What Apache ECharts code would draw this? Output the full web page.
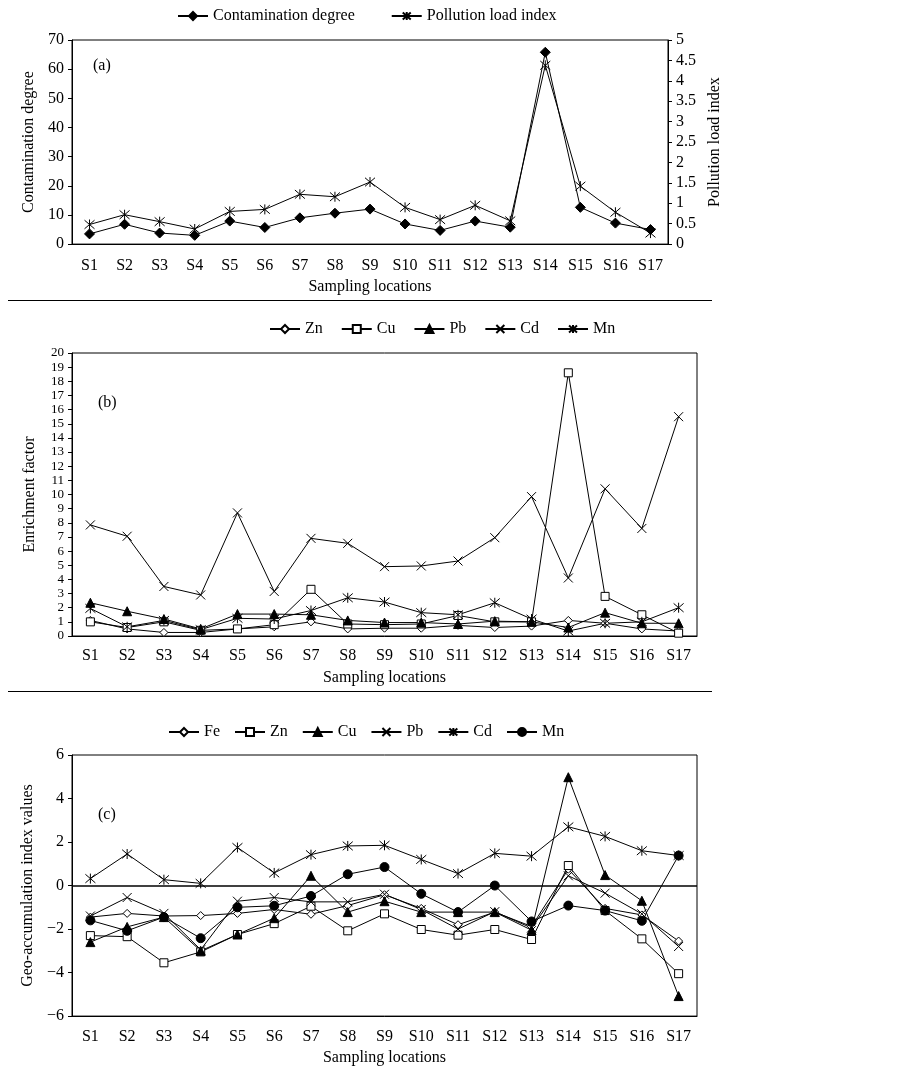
<!DOCTYPE html>
<html>
<head>
<meta charset="utf-8">
<script src="https://cdn.jsdelivr.net/npm/echarts@6/dist/echarts.min.js"></script>
<style>
  html, body { margin: 0; padding: 0; background: #fff; }
  #wrap { position: relative; width: 902px; height: 1071px; }
  .panel { position: absolute; left: 0; width: 902px; }
  .sep { position: absolute; left: 8px; width: 704px; height: 0; border-top: 1.5px solid #000; }
</style>
</head>
<body>
<div id="wrap">
  <div id="pa" class="panel" style="top:0;height:300px"></div>
  <div class="sep" style="top:300px"></div>
  <div id="pb" class="panel" style="top:301px;height:391px"></div>
  <div class="sep" style="top:691px"></div>
  <div id="pc" class="panel" style="top:692px;height:379px"></div>
</div>
<script>
// sampling sites
var sites = ['S1','S2','S3','S4','S5','S6','S7','S8','S9','S10','S11','S12','S13','S14','S15','S16','S17'];

// (a) contamination degree and pollution load index
var contDegree = [3.5, 6.8, 3.8, 3.0, 7.9, 5.7, 9.0, 10.6, 12.0, 6.9, 4.7, 7.9, 5.8, 65.8, 12.6, 7.2, 5.0];
var pli = [0.48, 0.72, 0.55, 0.37, 0.8, 0.85, 1.22, 1.16, 1.52, 0.9, 0.6, 0.95, 0.57, 4.38, 1.42, 0.78, 0.27];

// (b) enrichment factor
var efZn = [1.1, 0.5, 0.25, 0.25, 0.5, 0.65, 1.0, 0.5, 0.55, 0.55, 0.75, 0.6, 0.7, 1.1, 0.9, 0.5, 0.35];
var efCu = [1.0, 0.6, 1.0, 0.4, 0.5, 0.8, 3.3, 0.85, 0.8, 0.85, 1.45, 1.0, 1.0, 18.6, 2.8, 1.5, 0.2];
var efPb = [2.35, 1.75, 1.2, 0.5, 1.55, 1.55, 1.5, 1.1, 0.95, 0.95, 0.85, 1.05, 1.0, 0.6, 1.65, 0.9, 0.9];
var efCd = [7.85, 7.05, 3.5, 2.9, 8.7, 3.15, 6.9, 6.55, 4.9, 4.95, 5.3, 6.95, 9.85, 4.1, 10.4, 7.6, 15.5];
var efMn = [1.95, 0.65, 1.1, 0.45, 1.25, 1.2, 1.8, 2.7, 2.4, 1.65, 1.5, 2.35, 1.2, 0.35, 0.9, 1.0, 2.0];

// (c) geo-accumulation index
var igFe = [-1.45, -1.28, -1.4, -1.38, -1.28, -1.1, -1.32, -0.92, -0.42, -1.05, -1.8, -1.22, -1.88, 0.75, -1.05, -1.35, -2.55];
var igZn = [-2.3, -2.35, -3.55, -3.05, -2.25, -1.75, -0.95, -2.08, -1.3, -2.02, -2.28, -2.02, -2.48, 0.92, -1.15, -2.45, -4.05];
var igCu = [-2.6, -1.9, -1.45, -3.0, -2.25, -1.5, 0.45, -1.22, -0.72, -1.22, -1.22, -1.22, -2.05, 4.98, 0.48, -0.7, -5.08];
var igPb = [-1.4, -0.55, -1.28, -2.95, -0.72, -0.55, -0.75, -0.75, -0.4, -1.1, -2.0, -1.2, -1.95, 0.45, -0.35, -1.3, -2.8];
var igCd = [0.32, 1.45, 0.27, 0.1, 1.75, 0.58, 1.42, 1.82, 1.85, 1.2, 0.55, 1.48, 1.35, 2.7, 2.26, 1.6, 1.38];
var igMn = [-1.6, -2.08, -1.45, -2.42, -1.0, -0.93, -0.48, 0.52, 0.85, -0.38, -1.22, 0.0, -1.65, -0.92, -1.15, -1.62, 1.38];

var FONT = 'Liberation Serif';
var txt = { fontFamily: FONT, fontSize: 16, color: '#000' };

// marker shapes
var STAR = 'path://M0,-5L0,5M-4.3,-4.3L4.3,4.3M-4.3,4.3L4.3,-4.3';
var CROSS = 'path://M-5,-5L5,5M-5,5L5,-5';
var mk = {
  diamondFill: { symbol: 'diamond', symbolSize: 10, itemStyle: { color: '#000', borderColor: '#000', borderWidth: 1 } },
  diamondOpen: { symbol: 'diamond', symbolSize: 8, itemStyle: { color: '#fff', borderColor: '#000', borderWidth: 1 } },
  square: { symbol: 'rect', symbolSize: 8, itemStyle: { color: '#fff', borderColor: '#000', borderWidth: 1 } },
  triangle: { symbol: 'triangle', symbolSize: 9, itemStyle: { color: '#000', borderColor: '#000', borderWidth: 1 } },
  circle: { symbol: 'circle', symbolSize: 9, itemStyle: { color: '#000', borderColor: '#000', borderWidth: 1 } },
  star: { symbol: STAR, symbolSize: 10, itemStyle: { color: '#000', borderColor: '#000', borderWidth: 1 } },
  cross: { symbol: CROSS, symbolSize: 9, itemStyle: { color: '#000', borderColor: '#000', borderWidth: 1 } }
};

function line(name, data, m, extra) {
  var s = {
    name: name, type: 'line', data: data,
    symbol: m.symbol, symbolSize: m.symbolSize, itemStyle: m.itemStyle,
    showAllSymbol: true,
    lineStyle: { color: '#000', width: 1 },
    emphasis: { disabled: true }
  };
  for (var k in extra) s[k] = extra[k];
  return s;
}

function catAxis(gap, margin) {
  return {
    type: 'category', data: sites, boundaryGap: true,
    name: 'Sampling locations', nameLocation: 'middle', nameGap: gap, nameTextStyle: txt,
    axisLine: { onZero: false, lineStyle: { color: '#000', width: 1 } },
    axisTick: { show: false },
    axisLabel: Object.assign({ margin: margin, interval: 0 }, txt)
  };
}

function valAxis(name, min, max, step, gap, pos, labelSize) {
  return {
    type: 'value', min: min, max: max, interval: step, position: pos || 'left',
    name: name, nameLocation: 'middle', nameGap: gap, nameTextStyle: txt,
    axisLine: { show: true, lineStyle: { color: '#000', width: 1 } },
    axisTick: { show: true, length: 4, lineStyle: { color: '#000' } },
    splitLine: { show: false },
    axisLabel: Object.assign({}, txt, {
      margin: 8, showMinLabel: true, showMaxLabel: true, hideOverlap: false,
      fontSize: labelSize || 16, lineHeight: labelSize || 16,
      formatter: function (v) { return String(v).replace('-', '\u2212'); }
    })
  };
}

function legend(left, top, gap, names) {
  return {
    left: left, top: top, itemGap: gap, itemWidth: 30, itemHeight: 10,
    textStyle: txt, data: names, selectedMode: false
  };
}

function label(x, y, s) {
  return { type: 'text', left: x, top: y, style: { text: s, font: '16px "' + FONT + '"', fill: '#000' } };
}

// (a)
echarts.init(document.getElementById('pa')).setOption({
  animation: false,
  legend: legend(172, 3, 36, ['Contamination degree', 'Pollution load index']),
  grid: { left: 72, top: 40, width: 596, height: 206, show: true, borderColor: '#000', borderWidth: 1 },
  xAxis: catAxis(31, 14),
  yAxis: [
    valAxis('Contamination degree', 0, 70, 10, 34),
    valAxis('Pollution load index', 0, 5, 0.5, 19, 'right')
  ],
  graphic: [label(93, 58, '(a)')],
  series: [
    line('Contamination degree', contDegree, mk.diamondFill, { yAxisIndex: 0 }),
    line('Pollution load index', pli, mk.star, { yAxisIndex: 1 })
  ]
});

// (b)
echarts.init(document.getElementById('pb')).setOption({
  animation: false,
  legend: legend(264, 15, 18, ['Zn', 'Cu', 'Pb', 'Cd', 'Mn']),
  grid: { left: 72, top: 52, width: 625, height: 283, show: true, borderColor: '#000', borderWidth: 1 },
  xAxis: catAxis(34, 12),
  yAxis: valAxis('Enrichment factor', 0, 20, 1, 34, 'left', 13),
  graphic: [label(98, 94, '(b)')],
  series: [
    line('Zn', efZn, mk.diamondOpen),
    line('Cu', efCu, mk.square),
    line('Pb', efPb, mk.triangle),
    line('Cd', efCd, mk.cross),
    line('Mn', efMn, mk.star)
  ]
});

// (c)
echarts.init(document.getElementById('pc')).setOption({
  animation: false,
  legend: legend(163, 27, 14, ['Fe', 'Zn', 'Cu', 'Pb', 'Cd', 'Mn']),
  grid: { left: 72, top: 63, width: 625, height: 264, show: true, borderColor: '#000', borderWidth: 1 },
  xAxis: catAxis(32, 13),
  yAxis: valAxis('Geo-accumulation index values', -6, 6, 2, 34),
  graphic: [label(98, 115, '(c)')],
  series: [
    line('Fe', igFe, mk.diamondOpen, {
      markLine: { silent: true, symbol: 'none', label: { show: false },
        lineStyle: { color: '#000', width: 1.5, type: 'solid' }, data: [{ yAxis: 0 }] }
    }),
    line('Zn', igZn, mk.square),
    line('Cu', igCu, mk.triangle),
    line('Pb', igPb, mk.cross),
    line('Cd', igCd, mk.star),
    line('Mn', igMn, mk.circle)
  ]
});
</script>
</body>
</html>
